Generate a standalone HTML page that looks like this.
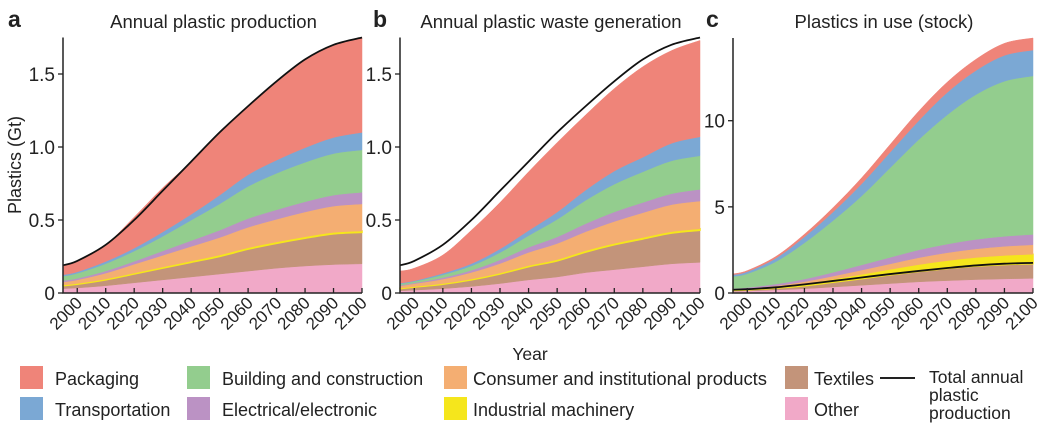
<!DOCTYPE html>
<html><head><meta charset="utf-8"><style>
body{margin:0;background:#fff;width:1044px;height:433px;overflow:hidden;font-family:"Liberation Sans",Arial,sans-serif}
svg text{font-family:"Liberation Sans",Arial,sans-serif;fill:#222}
</style></head><body>
<svg id="chart" width="1044" height="433" viewBox="0 0 1044 433" xmlns="http://www.w3.org/2000/svg">
<g id="panels"></g>
<g id="legend">
  <text x="530" y="360" font-size="17.5" text-anchor="middle">Year</text>
  <g><rect x="20" y="366" width="23" height="23" fill="#ef8479"/><text x="55" y="385" font-size="18">Packaging</text></g>
  <g><rect x="20" y="397" width="23" height="23" fill="#7ba8d4"/><text x="55" y="416" font-size="18">Transportation</text></g>
  <g><rect x="187" y="366" width="23" height="23" fill="#93cd8e"/><text x="222" y="385" font-size="18">Building and construction</text></g>
  <g><rect x="187" y="397" width="23" height="23" fill="#bb92c4"/><text x="222" y="416" font-size="18">Electrical/electronic</text></g>
  <g><rect x="444" y="366" width="23" height="23" fill="#f4ae72"/><text x="473" y="385" font-size="18" textLength="294" lengthAdjust="spacingAndGlyphs">Consumer and institutional products</text></g>
  <g><rect x="444" y="397" width="23" height="23" fill="#f5e61c"/><text x="473" y="416" font-size="18">Industrial machinery</text></g>
  <g><rect x="785" y="366" width="23" height="23" fill="#c3947a"/><text x="814" y="385" font-size="18">Textiles</text></g>
  <g><rect x="785" y="397" width="23" height="23" fill="#f1a9c8"/><text x="814" y="416" font-size="18">Other</text></g>
  <g><line x1="880" y1="378" x2="915" y2="378" stroke="#222" stroke-width="2"/><text x="929" y="383" font-size="17.5">Total annual</text><text x="929" y="401" font-size="17.5">plastic</text><text x="929" y="419" font-size="17.5">production</text></g>
</g>
</svg>
<script>
const years = [1995,2000,2010,2020,2030,2040,2050,2060,2070,2080,2090,2100];
const tickYears = [2000,2010,2020,2030,2040,2050,2060,2070,2080,2090,2100];
const seriesNames = ["other","textiles","industrial","consumer","electrical","building","transport","packaging"];
const seriesColors = ["#f1a9c8","#c3947a","#f5e61c","#f4ae72","#bb92c4","#93cd8e","#7ba8d4","#ef8479"];
// Panel a: production (Gt)
const totalProduction = [0.19,0.22,0.33,0.50,0.70,0.90,1.10,1.28,1.45,1.60,1.70,1.75];
const aOther = [0.03,0.035,0.05,0.07,0.09,0.11,0.13,0.15,0.17,0.185,0.195,0.20];
const aTextiles = [0.02,0.025,0.04,0.06,0.08,0.10,0.12,0.15,0.17,0.19,0.21,0.215];
const aIndustrial = [0.005,0.005,0.006,0.007,0.008,0.009,0.01,0.01,0.01,0.01,0.01,0.01];
const aConsumer = [0.02,0.025,0.04,0.06,0.08,0.10,0.12,0.14,0.155,0.17,0.18,0.185];
const aElectrical = [0.01,0.01,0.015,0.02,0.03,0.04,0.05,0.06,0.065,0.07,0.075,0.08];
const aBuilding = [0.03,0.035,0.05,0.07,0.10,0.14,0.18,0.22,0.25,0.27,0.285,0.29];
const aTransport = [0.01,0.01,0.015,0.02,0.03,0.04,0.06,0.08,0.09,0.10,0.11,0.12];
const aPackaging = [0.065,0.075,0.114,0.213,0.302,0.361,0.43,0.47,0.54,0.605,0.635,0.65];
// Panel b: waste (Gt)
const bOther = [0.015,0.02,0.03,0.045,0.065,0.09,0.11,0.14,0.16,0.18,0.20,0.21];
const bTextiles = [0.015,0.02,0.03,0.045,0.065,0.09,0.11,0.14,0.17,0.19,0.21,0.22];
const bIndustrial = [0.003,0.004,0.005,0.006,0.007,0.008,0.009,0.01,0.01,0.01,0.01,0.01];
const bConsumer = [0.015,0.02,0.03,0.045,0.065,0.09,0.11,0.13,0.15,0.17,0.185,0.19];
const bElectrical = [0.005,0.005,0.01,0.015,0.025,0.035,0.045,0.055,0.065,0.07,0.075,0.08];
const bBuilding = [0.01,0.01,0.02,0.03,0.05,0.08,0.12,0.16,0.19,0.21,0.225,0.23];
const bTransport = [0.005,0.005,0.01,0.015,0.025,0.035,0.05,0.07,0.09,0.10,0.12,0.13];
const bPackaging = [0.082,0.086,0.125,0.229,0.318,0.402,0.476,0.515,0.565,0.62,0.635,0.66];
// Panel c: stock (Gt)
const cOther = [0.1,0.12,0.18,0.25,0.35,0.45,0.55,0.65,0.72,0.78,0.82,0.85];
const cTextiles = [0.05,0.06,0.1,0.17,0.27,0.38,0.5,0.6,0.7,0.78,0.83,0.85];
const cIndustrial = [0.03,0.04,0.07,0.12,0.18,0.25,0.32,0.4,0.46,0.5,0.53,0.55];
const cConsumer = [0.03,0.04,0.07,0.12,0.18,0.25,0.32,0.4,0.46,0.5,0.53,0.55];
const cElectrical = [0.05,0.06,0.1,0.15,0.22,0.3,0.38,0.45,0.5,0.55,0.58,0.6];
const cBuilding = [0.7,0.8,1.3,2.1,3.0,4.0,5.2,6.4,7.5,8.4,9.0,9.2];
const cTransport = [0.1,0.12,0.2,0.35,0.5,0.7,0.9,1.1,1.3,1.4,1.5,1.5];
const cPackaging = [0.05,0.06,0.1,0.15,0.25,0.35,0.45,0.55,0.6,0.65,0.7,0.7];
const abTicks = [0,0.5,1.0,1.5];
const abTickLabels = ["0","0.5","1.0","1.5"];
const cTicks = [0,5,10];
const cTickLabels = ["0","5","10"];

const NS="http://www.w3.org/2000/svg";
const root=document.getElementById('panels');
function mk(tag,attrs,parent){const e=document.createElementNS(NS,tag);for(const k in attrs)e.setAttribute(k,attrs[k]);(parent||root).appendChild(e);return e;}
function smooth(pts){let d="M"+pts[0][0]+","+pts[0][1];for(let i=0;i<pts.length-1;i++){const p0=pts[i-1]||pts[i],p1=pts[i],p2=pts[i+1],p3=pts[i+2]||p2;
d+=" C"+(p1[0]+(p2[0]-p0[0])/6)+","+(p1[1]+(p2[1]-p0[1])/6)+" "+(p2[0]-(p3[0]-p1[0])/6)+","+(p2[1]-(p3[1]-p1[1])/6)+" "+p2[0]+","+p2[1];}return d;}

const panels=[
 {key:"a",letter:"a",title:"Annual plastic production",x0:63,x1:362,yMax:1.75,yTop:37.5,ticks:abTicks,labels:abTickLabels,series:[aOther,aTextiles,aIndustrial,aConsumer,aElectrical,aBuilding,aTransport,aPackaging],axTitle:true},
 {key:"b",letter:"b",title:"Annual plastic waste generation",x0:400,x1:700,yMax:1.75,yTop:37.5,ticks:abTicks,labels:abTickLabels,series:[bOther,bTextiles,bIndustrial,bConsumer,bElectrical,bBuilding,bTransport,bPackaging]},
 {key:"c",letter:"c",title:"Plastics in use (stock)",x0:733,x1:1033,yMax:14.8,yTop:38,ticks:cTicks,labels:cTickLabels,series:[cOther,cTextiles,cIndustrial,cConsumer,cElectrical,cBuilding,cTransport,cPackaging]}
];
const base=293;
panels.forEach(P=>{
 const g=mk('g',{});
 
 
 const xs=y=>P.x0+(y-1995)/(2100-1995)*(P.x1-P.x0);
 const ys=v=>base-v/P.yMax*(base-P.yTop);
 let cum=years.map(()=>0);
 P.series.forEach((s,si)=>{
  const lower=cum.slice();
  cum=cum.map((c,i)=>c+s[i]);
  const top=years.map((y,i)=>[xs(y),ys(cum[i])]);
  const bot=years.map((y,i)=>[xs(y),ys(lower[i])]).reverse();
  const d=smooth(top)+" L"+bot[0][0]+","+bot[0][1]+" "+smooth(bot).slice(1)+" Z";
  const p=mk('path',{d:d,fill:seriesColors[si],stroke:seriesColors[si],'stroke-width':si==2?1.5:0.5},g);
  
  
 });
 const line=mk('path',{d:smooth(years.map((y,i)=>[xs(y),ys(totalProduction[i])])),fill:'none',stroke:'#111','stroke-width':1.8},g);
 
 
 const ax=mk('path',{d:"M"+P.x0+","+P.yTop+" L"+P.x0+","+base+" L"+P.x1+","+base,fill:'none',stroke:'#222','stroke-width':1.5},g);
 
 
 P.ticks.forEach((t,i)=>{
  mk('line',{x1:P.x0-5,x2:P.x0,y1:ys(t),y2:ys(t),stroke:'#222','stroke-width':1.3},g);
  const tx=mk('text',{x:P.x0-8,y:ys(t)+7,'font-size':19,'text-anchor':'end'},g);
  tx.textContent=P.labels[i];
  
  
 });
 tickYears.forEach(y=>{
  const x=xs(y);
  mk('line',{x1:x,x2:x,y1:base-5,y2:base,stroke:'#222','stroke-width':1.3},g);
  const tx=mk('text',{x:x+6,y:base+11,'font-size':17,'text-anchor':'end',transform:'rotate(-45 '+(x+6)+' '+(base+11)+')'},g);
  tx.textContent=String(y);
  
  
 });
 const tt=mk('text',{x:(P.x0+P.x1)/2+1,y:28,'font-size':18.5,'text-anchor':'middle'},g);
 tt.textContent=P.title;
 
 
 const lt=mk('text',{x:P.x0-55+(P.key==='a'?0:28),y:27,'font-size':23,'font-weight':'bold'},g);
 lt.textContent=P.letter;
 
 
 if(P.axTitle){
  const yt=mk('text',{x:21,y:165,'font-size':18,'text-anchor':'middle',transform:'rotate(-90 21 165)'},g);
  yt.textContent="Plastics (Gt)";
  
  
 }
});
</script>
</body></html>
